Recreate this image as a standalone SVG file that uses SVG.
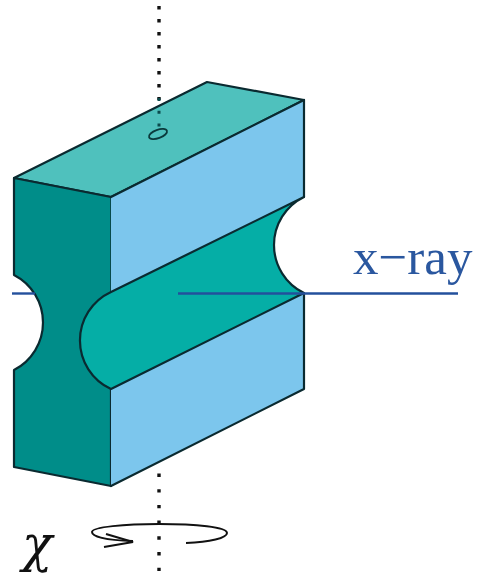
<svg xmlns="http://www.w3.org/2000/svg" width="478" height="577" viewBox="0 0 478 577">
<style>
.e{stroke:#0a2a30;stroke-width:2.2;stroke-linejoin:round;stroke-linecap:round}
.d{fill:none;stroke:#111;stroke-width:3.4}
.b{fill:none;stroke:#23509c;stroke-width:2.4}
.t{font-family:"Liberation Serif",serif}
</style>
<rect width="478" height="577" fill="#fff"/>
<g id="axis-top"><path class="d" stroke-dasharray="3.4 9.6" d="M159 6V100"/></g>
<g id="axis-bottom"><path class="d" stroke-dasharray="3.4 12.3" d="M159 473.500V577"/></g>
<g id="top-face"><path class="e" fill="#4fc1bd" d="M14 178L207 82L304 100L111 197Z"/><ellipse cx="158" cy="134" rx="9.500" ry="4.200" transform="rotate(-20 158 134)" fill="none" stroke="#0a3a3c" stroke-width="1.800"/><path d="M159 98V128" fill="none" stroke="#0a4a4c" stroke-width="3" stroke-dasharray="3 9.700"/></g>
<g id="left-face"><path fill="#008d89" d="M14 178L111 197V486L14 467V370A53.400 53.400 0 0 0 14 275Z"/><path class="e" fill="none" d="M111 197L14 178V275A53.400 53.400 0 0 1 14 370V467L111 486V389"/><path fill="none" stroke="#0a3a3c" stroke-width="1.600" d="M111 197V292"/></g>
<g id="right-face"><path fill="#7cc6ed" d="M111 197L304 100V197L111 292Z"/><path fill="#7cc6ed" d="M111 389L304 293V389L111 486Z"/><path class="e" fill="none" d="M304 100V197M304 293V389L111 486"/><path class="e" fill="none" d="M111 197L304 100"/></g>
<g id="channel"><path class="e" fill="#05aea6" d="M111 292L304 197A53.400 53.400 0 0 0 304 293L111 389A53.400 53.400 0 0 1 111 292Z"/></g>
<g id="connectors">
<path class="b" d="M12 293.500H35"/>
<path class="b" d="M178 293.500H458"/>
<path d="M133 541C102 540 92 536 92 532C92 527 125 524 159 524C196 524 227 527 227 533C227 538 210 542 186 543" fill="none" stroke="#111" stroke-width="2"/>
<path d="M106 534L133 542L104 547" fill="none" stroke="#111" stroke-width="2.200"/>
</g>
<g id="labels">
<text class="t" x="353" y="274" font-size="51" fill="#2a579f">x−ray</text>
<text x="22" y="561" font-size="50" font-style="italic" font-family="'DejaVu Serif',serif" fill="#111">χ</text>
</g>
</svg>
